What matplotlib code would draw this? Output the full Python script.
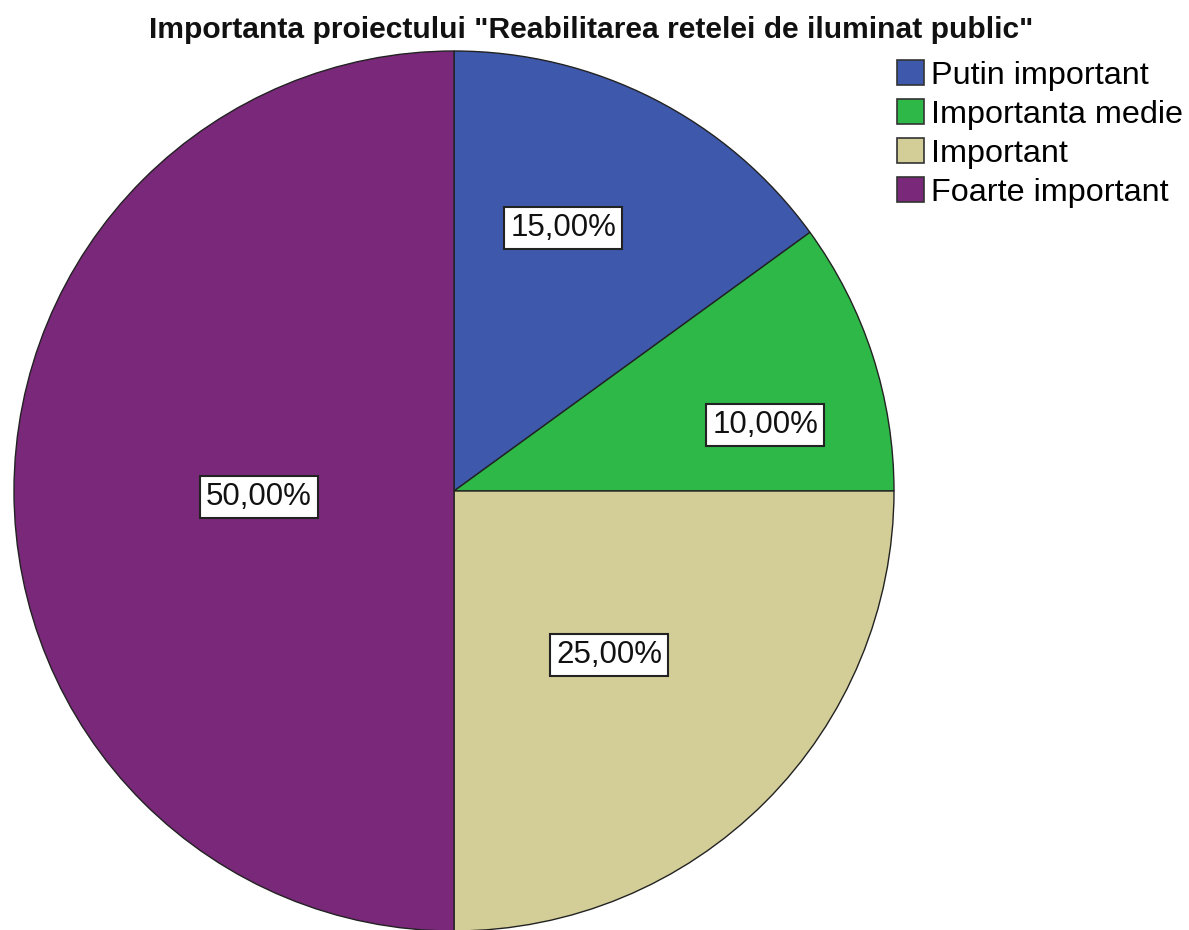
import matplotlib.pyplot as plt
from matplotlib.patches import Patch

plt.rcParams['font.family'] = ['Liberation Sans', 'DejaVu Sans']

# Survey answers, share of respondents (%)
categories = ['Putin important', 'Importanta medie', 'Important', 'Foarte important']
shares = [15.0, 10.0, 25.0, 50.0]
colors = ['#3e58ac', '#2eb848', '#d3ce97', '#7a287a']
# label anchors in pie units (radius = 1)
label_xy = [(0.248, 0.598), (0.707, 0.150), (0.352, -0.373), (-0.443, -0.014)]

fig = plt.figure(figsize=(11.89, 9.30), dpi=100)
ax = fig.add_axes([14 / 1189, -1 / 930, 880 / 1189, 880 / 930])

wedges, _ = ax.pie(shares, colors=colors, startangle=90, counterclock=False,
                   radius=1.0, wedgeprops=dict(edgecolor='#222222', linewidth=1.0))
ax.set_xlim(-1, 1)
ax.set_ylim(-1, 1)
ax.set_aspect('equal')
ax.axis('off')

for (x, y), v in zip(label_xy, shares):
    ax.text(x, y, f'{v:.2f}%'.replace('.', ','), ha='center', va='center',
            fontsize=22.5, color='#111111',
            bbox=dict(boxstyle='square,pad=0.2', facecolor='white',
                      edgecolor='#222222', linewidth=1.5))

fig.text(0.497, 0.968, 'Importanta proiectului "Reabilitarea retelei de iluminat public"',
         ha='center', va='center', fontsize=21.6, fontweight='bold', color='#111111')

handles = [Patch(facecolor=c, edgecolor='#333333', linewidth=1.2) for c in colors]
fig.legend(handles, categories, loc='upper left', bbox_to_anchor=(0.754, 0.9355),
           frameon=False, fontsize=23.3, handlelength=0.86, handleheight=0.8,
           handletextpad=0.2, labelspacing=0.26, borderaxespad=0, borderpad=0)

fig.savefig('out.png', dpi=100, facecolor='white')
